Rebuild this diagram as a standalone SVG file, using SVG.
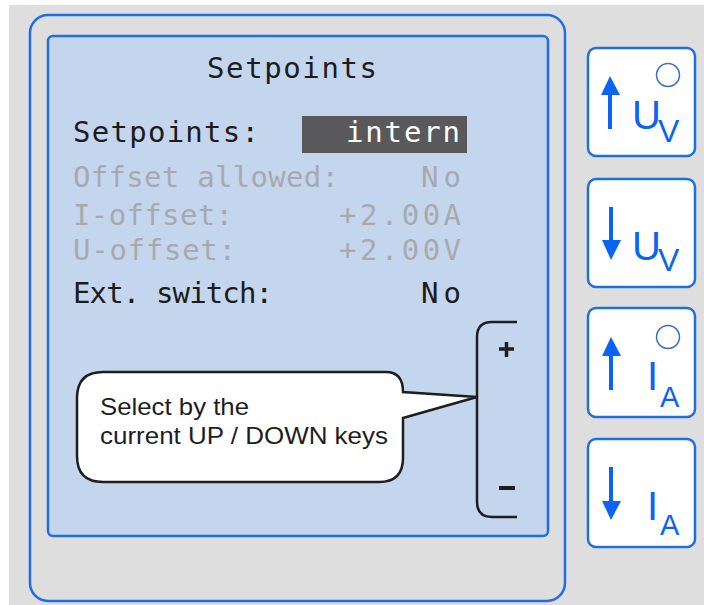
<svg xmlns="http://www.w3.org/2000/svg" width="704" height="605" viewBox="0 0 704 605">
  <style>
    .frame { fill: none; stroke: #1f6fe3; stroke-width: 2.5; }
    .panel { fill: #c4d6ed; stroke: #1f6fe3; stroke-width: 2.5; }
    .lcd { font-family: "DejaVu Sans Mono", "Liberation Mono", monospace; font-size: 29px; }
    .on { fill: #1c1c1c; }
    .off { fill: #a7aaad; }
    .inv { fill: #ffffff; }
    .key { fill: #ffffff; stroke: #1f6fe3; stroke-width: 2.5; }
    .arrow { fill: #0a64f2; }
    .shaft { stroke: #0a64f2; stroke-width: 4; }
    .sym { fill: #0a64f2; font-family: "Liberation Sans", Arial, sans-serif; }
    .led { fill: none; stroke: #3b6fc8; stroke-width: 1.5; }
    .ink { fill: none; stroke: #1e1e1e; stroke-width: 2.5; }
    .note { font-family: "Liberation Sans", Arial, sans-serif; font-size: 24px; fill: #1e1e1e; }
  </style>

  <!-- backdrop -->
  <rect x="0" y="0" width="704" height="605" fill="#ffffff"/>
  <rect x="9" y="5" width="695" height="600" fill="#dedede"/>

  <!-- device housing and display -->
  <g id="housing">
    <rect class="frame" x="30" y="15" width="535" height="586" rx="18"/>
  </g>
  <g id="display">
    <rect class="panel" x="48" y="36" width="500" height="500" rx="5"/>
    <text class="lcd on" x="207" y="78" textLength="170" lengthAdjust="spacing">Setpoints</text>

    <text class="lcd on" x="73" y="142" textLength="186" lengthAdjust="spacing">Setpoints:</text>
    <rect x="302" y="116" width="165" height="37" fill="#59595b"/>
    <text class="lcd inv" x="346" y="142" textLength="114" lengthAdjust="spacing">intern</text>

    <text class="lcd off" x="73" y="187" textLength="266" lengthAdjust="spacing">Offset allowed:</text>
    <text class="lcd off" x="421" y="187" textLength="40" lengthAdjust="spacing">No</text>

    <text class="lcd off" x="73" y="225" textLength="160" lengthAdjust="spacing">I-offset:</text>
    <text class="lcd off" x="339" y="225" textLength="122" lengthAdjust="spacing">+2.00A</text>

    <text class="lcd off" x="73" y="260" textLength="163" lengthAdjust="spacing">U-offset:</text>
    <text class="lcd off" x="339" y="260" textLength="122" lengthAdjust="spacing">+2.00V</text>

    <text class="lcd on" x="73" y="303" textLength="200" lengthAdjust="spacing">Ext. switch:</text>
    <text class="lcd on" x="421" y="303" textLength="40" lengthAdjust="spacing">No</text>
  </g>

  <!-- +/- bracket for the current keys -->
  <g id="bracket">
    <path class="ink" d="M517,322 H492 Q477,322 477,337 V502 Q477,517 492,517 H517"/>
    <path d="M499,349 H514 M506.5,342 V357" stroke="#1e1e1e" stroke-width="3.5" fill="none"/>
    <path d="M499,488 H515" stroke="#1e1e1e" stroke-width="4" fill="none"/>
  </g>

  <!-- callout -->
  <g id="callout">
    <path d="M103,372 H386 Q403,372 403,392 L477,397 L403,418 V458 Q403,482 379,482 H103 Q77,482 77,456 V398 Q77,372 103,372 Z" fill="#ffffff" stroke="#1e1e1e" stroke-width="2.5" stroke-linejoin="miter"/>
    <text class="note" x="100" y="415" textLength="149" lengthAdjust="spacingAndGlyphs">Select by the</text>
    <text class="note" x="100" y="444" textLength="288" lengthAdjust="spacingAndGlyphs">current UP / DOWN keys</text>
  </g>

  <!-- front keys -->
  <g id="key-u-up">
    <rect class="key" x="588" y="48" width="107" height="108" rx="8"/>
    <line class="shaft" x1="610" y1="92" x2="610" y2="129"/>
    <polygon class="arrow" points="610,76 601,95 620,95"/>
    <text class="sym" x="632" y="129" font-size="40">U</text>
    <text class="sym" x="658" y="142" font-size="32">V</text>
    <circle class="led" cx="668" cy="75" r="11.5"/>
  </g>
  <g id="key-u-down">
    <rect class="key" x="588" y="179" width="107" height="108" rx="8"/>
    <line class="shaft" x1="611" y1="207" x2="611" y2="244"/>
    <polygon class="arrow" points="611,260 602,240 621,240"/>
    <text class="sym" x="632" y="260" font-size="40">U</text>
    <text class="sym" x="658" y="271" font-size="32">V</text>
  </g>
  <g id="key-i-up">
    <rect class="key" x="588" y="308" width="107" height="109" rx="8"/>
    <line class="shaft" x1="611" y1="352" x2="611" y2="390"/>
    <polygon class="arrow" points="611,337 602,356 621,356"/>
    <text class="sym" x="647" y="390" font-size="40">I</text>
    <text class="sym" x="660" y="407" font-size="29">A</text>
    <circle class="led" cx="668" cy="337" r="11.5"/>
  </g>
  <g id="key-i-down">
    <rect class="key" x="588" y="439" width="107" height="108" rx="8"/>
    <line class="shaft" x1="611" y1="467" x2="611" y2="505"/>
    <polygon class="arrow" points="611,520 602,501 621,501"/>
    <text class="sym" x="647" y="520" font-size="40">I</text>
    <text class="sym" x="660" y="535" font-size="29">A</text>
  </g>
</svg>
